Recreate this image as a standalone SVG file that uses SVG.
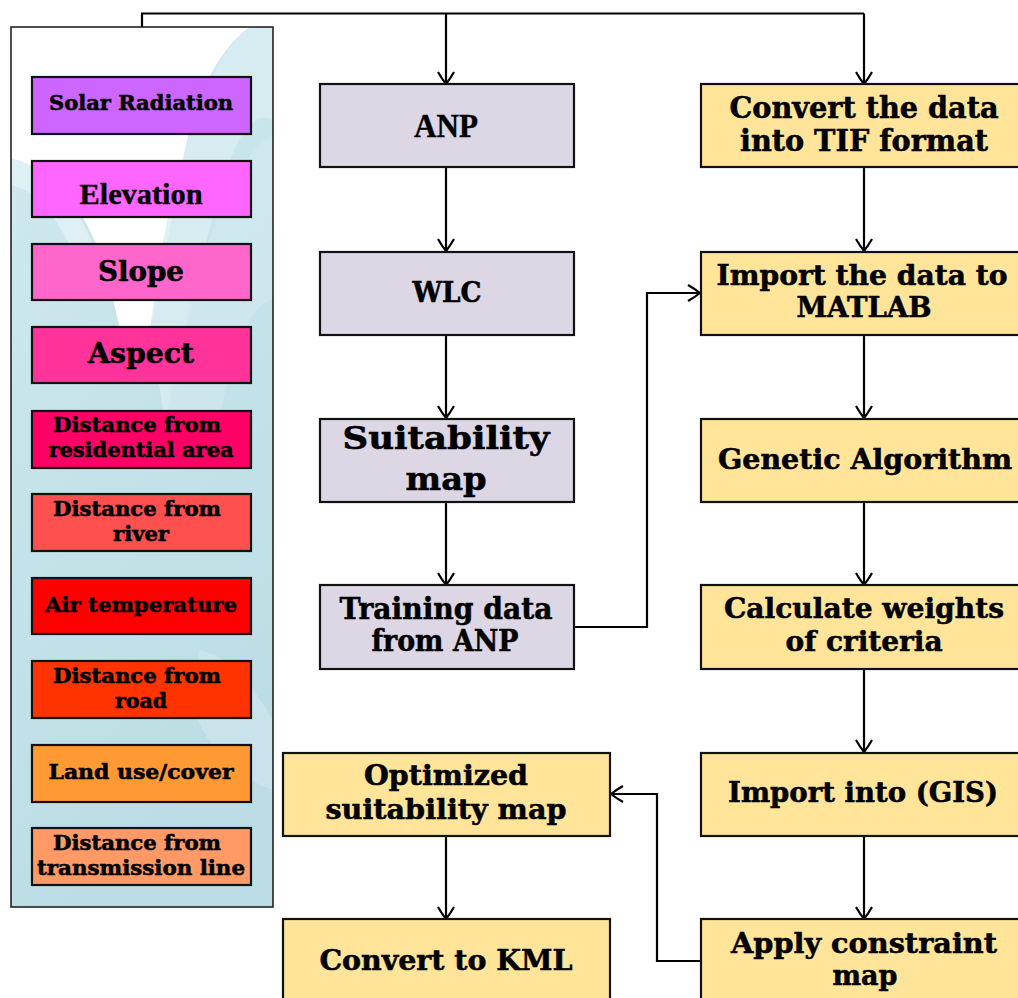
<svg xmlns="http://www.w3.org/2000/svg" width="1018" height="998" viewBox="0 0 1018 998">
<defs>
<style>
.b{stroke:#111;stroke-width:2.2}
.mid{fill:#DDD7E5}
.yel{fill:#FFE499}
.t{font-family:"DejaVu Serif","Liberation Serif",serif;font-weight:bold;fill:#000;stroke:#000;stroke-width:0.55;text-anchor:middle}
.tt{font-family:"Liberation Serif","Times New Roman",serif;font-weight:bold;fill:#000;stroke:#000;stroke-width:0.4;text-anchor:middle}
.c{fill:none;stroke:#000;stroke-width:2.2}
</style>
<marker id="ah" markerUnits="userSpaceOnUse" viewBox="-14 -10 16 20" markerWidth="16" markerHeight="20" refX="0" refY="0" orient="auto">
<path d="M-12,-8 Q-5,-4 0,0 Q-5,4 -12,8" fill="none" stroke="#000" stroke-width="2.2"/>
</marker>
<linearGradient id="pg" x1="0" y1="0" x2="0.3" y2="1">
<stop offset="0" stop-color="#D2EAF0"/>
<stop offset="0.5" stop-color="#C6E3EA"/>
<stop offset="1" stop-color="#BCDDE5"/>
</linearGradient>
</defs>

<g id="panel">
<rect x="11" y="27" width="262" height="880" fill="url(#pg)"/>
<path d="M11,27 H250 C225,45 200,80 185,150 C172,215 165,260 150,330 L120,330 C105,260 85,180 11,158 Z" fill="#FFFFFF"/>
<path d="M150,330 C160,250 170,200 185,150 C200,90 225,45 250,27 H273 V120 C255,110 240,130 225,175 C205,240 185,330 165,420 Z" fill="#DAEDF3" opacity="0.8"/>
<path d="M11,158 C60,170 95,230 110,300 L90,300 C70,230 40,190 11,185 Z" fill="#E6F3F7" opacity="0.7"/>
<path d="M160,420 C185,320 200,250 230,190 C245,160 260,140 273,135 V300 C250,300 230,360 215,440 Z" fill="#D3EAF0" opacity="0.6"/>
<path d="M200,650 C240,660 260,700 273,720 V790 C245,780 210,760 190,700 Z" fill="#D0E8EF" opacity="0.6"/>
<rect x="11" y="27" width="262" height="880" fill="none" stroke="#222" stroke-width="1.6"/>
</g>

<g id="connectors">
<path class="c" d="M142,27 V13.5 H864"/>
<path class="c" d="M446,13.5 V84" marker-end="url(#ah)"/>
<path class="c" d="M864,13.5 V84" marker-end="url(#ah)"/>
<path class="c" d="M446,168 V251" marker-end="url(#ah)"/>
<path class="c" d="M446,335 V418" marker-end="url(#ah)"/>
<path class="c" d="M446,502 V585" marker-end="url(#ah)"/>
<path class="c" d="M575,627 H647 V293 H700" marker-end="url(#ah)"/>
<path class="c" d="M864,168 V251" marker-end="url(#ah)"/>
<path class="c" d="M864,335 V418" marker-end="url(#ah)"/>
<path class="c" d="M864,502 V585" marker-end="url(#ah)"/>
<path class="c" d="M864,669 V752" marker-end="url(#ah)"/>
<path class="c" d="M864,836 V919" marker-end="url(#ah)"/>
<path class="c" d="M700,961 H657 V794 H611" marker-end="url(#ah)"/>
<path class="c" d="M446,836 V919" marker-end="url(#ah)"/>
</g>

<g id="n-solar"><rect class="b" x="32" y="77" width="219" height="57" fill="#CC66FF"/><text class="t" x="141" y="110" font-size="20" textLength="184" lengthAdjust="spacingAndGlyphs">Solar Radiation</text></g>
<g id="n-elev"><rect class="b" x="32" y="161" width="219" height="56" fill="#FF66FF"/><text class="tt" x="141" y="204" font-size="30" textLength="123" lengthAdjust="spacingAndGlyphs">Elevation</text></g>
<g id="n-slope"><rect class="b" x="32" y="244" width="219" height="56" fill="#FF66CC"/><text class="t" x="141" y="281" font-size="27" textLength="86" lengthAdjust="spacingAndGlyphs">Slope</text></g>
<g id="n-aspect"><rect class="b" x="32" y="327" width="219" height="56" fill="#FF3399"/><text class="t" x="141" y="363" font-size="27" textLength="106" lengthAdjust="spacingAndGlyphs">Aspect</text></g>
<g id="n-resid"><rect class="b" x="32" y="411" width="219" height="57" fill="#FF0066"/><text class="t" x="137" y="432" font-size="20" textLength="168" lengthAdjust="spacingAndGlyphs">Distance from</text><text class="t" x="141" y="457" font-size="20" textLength="185" lengthAdjust="spacingAndGlyphs">residential area</text></g>
<g id="n-river"><rect class="b" x="32" y="494" width="219" height="57" fill="#FF5050"/><text class="t" x="137" y="516" font-size="20" textLength="168" lengthAdjust="spacingAndGlyphs">Distance from</text><text class="t" x="141" y="541" font-size="20" textLength="56" lengthAdjust="spacingAndGlyphs">river</text></g>
<g id="n-air"><rect class="b" x="32" y="578" width="219" height="56" fill="#FF0000"/><text class="t" x="141" y="612" font-size="20" textLength="192" lengthAdjust="spacingAndGlyphs">Air temperature</text></g>
<g id="n-road"><rect class="b" x="32" y="661" width="219" height="57" fill="#FF3300"/><text class="t" x="137" y="683" font-size="20" textLength="168" lengthAdjust="spacingAndGlyphs">Distance from</text><text class="t" x="141" y="708" font-size="20" textLength="52" lengthAdjust="spacingAndGlyphs">road</text></g>
<g id="n-land"><rect class="b" x="32" y="745" width="219" height="57" fill="#FF9933"/><text class="t" x="141" y="779" font-size="20" textLength="185" lengthAdjust="spacingAndGlyphs">Land use/cover</text></g>
<g id="n-trans"><rect class="b" x="32" y="828" width="219" height="57" fill="#FF9966"/><text class="t" x="137" y="850" font-size="20" textLength="168" lengthAdjust="spacingAndGlyphs">Distance from</text><text class="t" x="141" y="875" font-size="20" textLength="208" lengthAdjust="spacingAndGlyphs">transmission line</text></g>

<g id="n-anp"><rect class="b mid" x="320" y="84" width="254" height="83"/><text class="tt" x="446" y="137" font-size="33" textLength="64" lengthAdjust="spacingAndGlyphs">ANP</text></g>
<g id="n-wlc"><rect class="b mid" x="320" y="252" width="254" height="83"/><text class="t" x="447" y="302" font-size="28" textLength="69" lengthAdjust="spacingAndGlyphs">WLC</text></g>
<g id="n-suit"><rect class="b mid" x="320" y="419" width="254" height="83"/><text class="t" x="446" y="449" font-size="32" textLength="207" lengthAdjust="spacingAndGlyphs">Suitability</text><text class="t" x="446" y="490" font-size="32" textLength="81" lengthAdjust="spacingAndGlyphs">map</text></g>
<g id="n-train"><rect class="b mid" x="320" y="585" width="254" height="84"/><text class="t" x="446" y="619" font-size="29" textLength="213" lengthAdjust="spacingAndGlyphs">Training data</text><text class="t" x="445" y="651" font-size="29" textLength="147" lengthAdjust="spacingAndGlyphs">from ANP</text></g>

<g id="n-tif"><rect class="b yel" x="701" y="84" width="320" height="83"/><text class="t" x="864" y="118" font-size="29" textLength="269" lengthAdjust="spacingAndGlyphs">Convert the data</text><text class="t" x="864" y="151" font-size="29" textLength="248" lengthAdjust="spacingAndGlyphs">into TIF format</text></g>
<g id="n-matlab"><rect class="b yel" x="701" y="252" width="320" height="83"/><text class="t" x="862" y="285" font-size="28" textLength="291" lengthAdjust="spacingAndGlyphs">Import the data to</text><text class="t" x="864" y="317" font-size="28" textLength="135" lengthAdjust="spacingAndGlyphs">MATLAB</text></g>
<g id="n-ga"><rect class="b yel" x="701" y="419" width="320" height="83"/><text class="t" x="865" y="469" font-size="28" textLength="294" lengthAdjust="spacingAndGlyphs">Genetic Algorithm</text></g>
<g id="n-weights"><rect class="b yel" x="701" y="585" width="320" height="84"/><text class="t" x="864" y="618" font-size="28" textLength="280" lengthAdjust="spacingAndGlyphs">Calculate weights</text><text class="t" x="864" y="651" font-size="28" textLength="157" lengthAdjust="spacingAndGlyphs">of criteria</text></g>
<g id="n-gis"><rect class="b yel" x="701" y="753" width="320" height="83"/><text class="t" x="863" y="802" font-size="28" textLength="270" lengthAdjust="spacingAndGlyphs">Import into (GIS)</text></g>
<g id="n-constraint"><rect class="b yel" x="701" y="919" width="320" height="90"/><text class="t" x="864" y="953" font-size="28" textLength="266" lengthAdjust="spacingAndGlyphs">Apply constraint</text><text class="t" x="865" y="985" font-size="28" textLength="65" lengthAdjust="spacingAndGlyphs">map</text></g>

<g id="n-opt"><rect class="b yel" x="283" y="753" width="327" height="83"/><text class="t" x="446" y="785" font-size="28" textLength="164" lengthAdjust="spacingAndGlyphs">Optimized</text><text class="t" x="446" y="819" font-size="28" textLength="241" lengthAdjust="spacingAndGlyphs">suitability map</text></g>
<g id="n-kml"><rect class="b yel" x="283" y="919" width="327" height="90"/><text class="t" x="446" y="970" font-size="28" textLength="253" lengthAdjust="spacingAndGlyphs">Convert to KML</text></g>
</svg>
